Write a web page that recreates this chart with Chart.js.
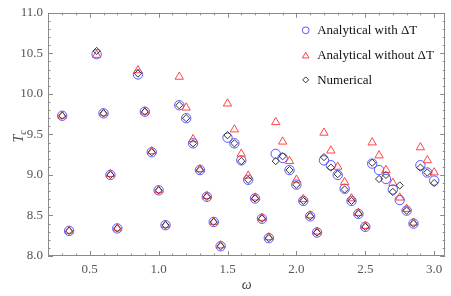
<!DOCTYPE html>
<html>
<head>
<meta charset="utf-8">
<script src="https://cdn.jsdelivr.net/npm/chart.js@4.4.1/dist/chart.umd.min.js"></script>
<style>
  html, body { margin: 0; padding: 0; background: #fff; }
  #wrap { width: 451px; height: 296px; }
</style>
</head>
<body>
<div id="wrap"><canvas id="chart" width="451" height="296"></canvas></div>
<script>
/* ---------- Data ---------- */
const omega = [0.3, 0.35, 0.55, 0.6, 0.65, 0.7, 0.85, 0.9, 0.95, 1.0, 1.05,
  1.15, 1.2, 1.25, 1.3, 1.35, 1.4, 1.45, 1.5, 1.55, 1.6, 1.65, 1.7, 1.75, 1.8,
  1.85, 1.9, 1.95, 2.0, 2.05, 2.1, 2.15, 2.2, 2.25, 2.3, 2.35, 2.4, 2.45, 2.5,
  2.55, 2.6, 2.65, 2.7, 2.75, 2.8, 2.85, 2.9, 2.95, 3.0];

const withDeltaT = [9.73, 8.31, 10.49, 9.76, 9.00, 8.34, 10.24, 9.78, 9.28, 8.81, 8.38,
  9.86, 9.70, 9.39, 9.06, 8.73, 8.42, 8.12, 9.46, 9.39, 9.18, 8.94, 8.71, 8.46, 8.22,
  9.26, 9.21, 9.06, 8.88, 8.68, 8.49, 8.29, 9.18, 9.12, 9.00, 8.83, 8.68, 8.52, 8.36,
  9.14, 9.06, 8.95, 8.82, 8.69, 8.56, 8.40, 9.12, 9.03, 8.93];

const withoutDeltaT = [9.73, 8.31, 10.48, 9.76, 9.01, 8.34, 10.29, 9.78, 9.29, 8.81, 8.38,
  10.21, 9.83, 9.44, 9.07, 8.74, 8.42, 8.13, 9.88, 9.56, 9.26, 8.99, 8.72, 8.47, 8.23,
  9.65, 9.41, 9.17, 8.94, 8.70, 8.50, 8.30, 9.52, 9.30, 9.10, 8.91, 8.71, 8.53, 8.37,
  9.40, 9.24, 9.06, 8.90, 8.72, 8.58, 8.41, 9.34, 9.18, 9.03];

const numerical = [9.73, 8.31, 10.53, 9.76, 9.00, 8.34, 10.25, 9.78, 9.28, 8.81, 8.38,
  9.86, 9.70, 9.39, 9.06, 8.73, 8.42, 8.12, 9.49, 9.39, 9.17, 8.94, 8.71, 8.46, 8.22,
  9.17, 9.23, 9.06, 8.88, 8.68, 8.49, 8.29, 9.22, 9.09, 9.01, 8.82, 8.68, 8.52, 8.36,
  9.15, 8.95, 9.00, 8.79, 8.87, 8.56, 8.40, 9.09, 9.03, 8.90];

const seriesNames = ['Analytical with \u0394T', 'Analytical without \u0394T', 'Numerical'];
const xTicks = [0.5, 1.0, 1.5, 2.0, 2.5, 3.0];
const yTicks = [8.0, 8.5, 9.0, 9.5, 10.0, 10.5, 11.0];

const SERIF = '"Liberation Serif", "DejaVu Serif", serif';
const BLUE = 'rgba(60, 60, 255, 0.85)';
const RED = 'rgba(255, 50, 50, 0.9)';
const DARK = '#333';
const FRAME = '#8a8a8a';

const toPoints = (ys) => omega.map((x, i) => ({ x, y: ys[i] }));

/* ---------- Frame with inward major/minor ticks ---------- */
const frameTicks = {
  id: 'frameTicks',
  beforeDatasetsDraw(chart) {
    const { ctx, chartArea: a, scales: { x, y } } = chart;
    ctx.save();
    ctx.strokeStyle = FRAME;
    ctx.lineWidth = 1;
    ctx.strokeRect(Math.round(a.left) + 0.5, Math.round(a.top) + 0.5,
      Math.round(a.right - a.left) - 1, Math.round(a.bottom - a.top) - 1);
    ctx.beginPath();
    for (let k = 2; k <= 30; k++) {
      const v = k / 10;
      const len = k % 5 === 0 ? 5 : 2.5;
      const px = Math.round(x.getPixelForValue(v)) + 0.5;
      ctx.moveTo(px, a.bottom); ctx.lineTo(px, a.bottom - len);
      ctx.moveTo(px, a.top); ctx.lineTo(px, a.top + len);
    }
    for (let k = 80; k <= 110; k++) {
      const v = k / 10;
      const len = k % 5 === 0 ? 5 : 2.5;
      const py = Math.round(y.getPixelForValue(v)) + 0.5;
      ctx.moveTo(a.left, py); ctx.lineTo(a.left + len, py);
      ctx.moveTo(a.right, py); ctx.lineTo(a.right - len, py);
    }
    ctx.stroke();
    ctx.restore();
  }
};

/* ---------- Legend inside the plot + T_c label ---------- */
function marker(ctx, style, cx, cy, r) {
  ctx.beginPath();
  if (style === 'circle') {
    ctx.arc(cx, cy, r, 0, Math.PI * 2);
  } else if (style === 'triangle') {
    for (let i = 0; i < 3; i++) {
      const ang = -Math.PI / 2 + i * 2 * Math.PI / 3;
      const px = cx + Math.cos(ang) * r, py = cy + r * 0.25 + Math.sin(ang) * r;
      i ? ctx.lineTo(px, py) : ctx.moveTo(px, py);
    }
    ctx.closePath();
  } else {
    ctx.moveTo(cx - r, cy); ctx.lineTo(cx, cy - r);
    ctx.lineTo(cx + r, cy); ctx.lineTo(cx, cy + r);
    ctx.closePath();
  }
  ctx.stroke();
}

const insideLegend = {
  id: 'insideLegend',
  afterDraw(chart) {
    const { ctx, chartArea: a } = chart;
    const styles = ['circle', 'triangle', 'rectRot'];
    const colors = [BLUE, RED, DARK];
    const sizes = [3.4, 3.8, 3];
    ctx.save();
    ctx.font = '13px ' + SERIF;
    ctx.textBaseline = 'middle';
    ctx.fillStyle = '#111';
    seriesNames.forEach((name, i) => {
      const yy = a.top + 17.5 + i * 24.8;
      ctx.strokeStyle = colors[i];
      ctx.lineWidth = 1;
      marker(ctx, styles[i], a.right - 139.5, yy, sizes[i]);
      ctx.fillText(name, a.right - 128, yy + 0.5);
    });

    // y axis title: T with subscript c, rotated
    ctx.translate(19, (a.top + a.bottom) / 2 + 2);
    ctx.rotate(-Math.PI / 2);
    ctx.fillStyle = '#444';
    ctx.textBaseline = 'alphabetic';
    ctx.font = 'italic 14px ' + SERIF;
    const wT = ctx.measureText('T').width;
    ctx.font = 'italic 10px ' + SERIF;
    const wc = ctx.measureText('c').width;
    const x0 = -(wT + wc) / 2;
    ctx.font = 'italic 14px ' + SERIF;
    ctx.fillText('T', x0, 4);
    ctx.font = 'italic 10px ' + SERIF;
    ctx.fillText('c', x0 + wT, 7);
    ctx.restore();
  }
};

/* ---------- Chart ---------- */
new Chart(document.getElementById('chart'), {
  type: 'scatter',
  data: {
    datasets: [
      { label: seriesNames[2], data: toPoints(numerical), pointStyle: 'rectRot', radius: 3.6,
        borderColor: DARK, backgroundColor: 'transparent', borderWidth: 1, order: 1 },
      { label: seriesNames[1], data: toPoints(withoutDeltaT), pointStyle: 'triangle', radius: 4.8,
        borderColor: RED, backgroundColor: 'transparent', borderWidth: 1, order: 2 },
      { label: seriesNames[0], data: toPoints(withDeltaT), pointStyle: 'circle', radius: 4.7,
        borderColor: BLUE, backgroundColor: 'transparent', borderWidth: 1, order: 3 }
    ]
  },
  options: {
    responsive: false,
    animation: false,
    layout: { padding: { top: 7, right: 3, left: 0, bottom: 0 } },
    plugins: { legend: { display: false }, tooltip: { enabled: false } },
    scales: {
      x: {
        type: 'linear', min: 0.197, max: 3.08,
        grid: { display: false, drawTicks: false },
        border: { display: false },
        afterBuildTicks: (s) => { s.ticks = xTicks.map(v => ({ value: v })); },
        afterFit: (s) => { s.height = 40; },
        ticks: { padding: 6, color: '#555', maxRotation: 0, autoSkip: false,
          font: { family: SERIF, size: 13 }, callback: (v) => Number(v).toFixed(1) },
        title: { display: true, text: '\u03c9', color: '#444',
          font: { family: SERIF, size: 14, style: 'italic' }, padding: { top: 0, bottom: 2 } }
      },
      y: {
        type: 'linear', min: 8.0, max: 11.0,
        grid: { display: false, drawTicks: false },
        border: { display: false },
        afterBuildTicks: (s) => { s.ticks = yTicks.map(v => ({ value: v })); },
        afterFit: (s) => { s.width = 48; },
        ticks: { padding: 5, color: '#555', autoSkip: false,
          font: { family: SERIF, size: 13 }, callback: (v) => Number(v).toFixed(1) }
      }
    }
  },
  plugins: [frameTicks, insideLegend]
});
</script>
</body>
</html>
